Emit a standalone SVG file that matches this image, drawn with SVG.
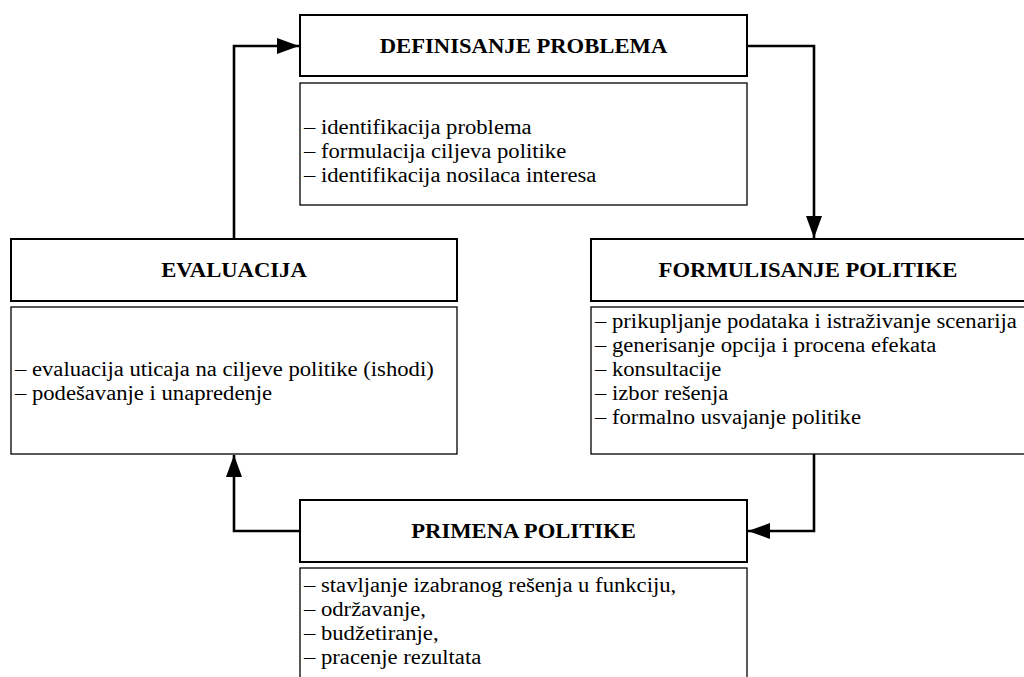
<svg xmlns="http://www.w3.org/2000/svg" width="1024" height="677" viewBox="0 0 1024 677">
  <style>
    .hdr { fill: #ffffff; stroke: #000000; stroke-width: 2; }
    .box { fill: #ffffff; stroke: #000000; stroke-width: 1.3; }
    .title { font-size: 20.5px; font-weight: bold; text-anchor: middle; fill: #000000; }
    .item { font-size: 20.5px; fill: #000000; }
    .link { fill: none; stroke: #000000; stroke-width: 2.6; }
  </style>
  <defs>
    <marker id="arrow" viewBox="0 0 22 16" refX="22" refY="8" markerWidth="22" markerHeight="16" markerUnits="userSpaceOnUse" orient="auto">
      <path d="M0,0 L22,8 L0,16 Z" fill="#000000"/>
    </marker>
  </defs>
  <rect width="1024" height="677" fill="#ffffff"/>

  <!-- cycle connectors -->
  <g id="connectors">
    <path class="link" d="M234,239 V46 H299" marker-end="url(#arrow)"/>
    <path class="link" d="M747,46 H814 V238" marker-end="url(#arrow)"/>
    <path class="link" d="M814,454 V531 H748" marker-end="url(#arrow)"/>
    <path class="link" d="M300,531 H234 V455" marker-end="url(#arrow)"/>
  </g>

  <g font-family="'Liberation Serif', 'Times New Roman', serif">
    <!-- stage 1 -->
    <g id="definisanje">
      <rect class="hdr" x="300" y="15" width="447" height="61"/>
      <text class="title" transform="translate(523.5,53) scale(1.105,1)">DEFINISANJE PROBLEMA</text>
      <rect class="box" x="300" y="83" width="447" height="122"/>
      <text class="item" transform="translate(304,134) scale(1.105,1)">– identifikacija problema</text>
      <text class="item" transform="translate(304,158) scale(1.105,1)">– formulacija ciljeva politike</text>
      <text class="item" transform="translate(304,182) scale(1.105,1)">– identifikacija nosilaca interesa</text>
    </g>

    <!-- stage 2 -->
    <g id="formulisanje">
      <rect class="hdr" x="591" y="239" width="440" height="62"/>
      <text class="title" transform="translate(808,277) scale(1.105,1)">FORMULISANJE POLITIKE</text>
      <rect class="box" x="591" y="307" width="440" height="147"/>
      <text class="item" transform="translate(595,328) scale(1.105,1)">– prikupljanje podataka i istraživanje scenarija</text>
      <text class="item" transform="translate(595,352) scale(1.105,1)">– generisanje opcija i procena efekata</text>
      <text class="item" transform="translate(595,376) scale(1.105,1)">– konsultacije</text>
      <text class="item" transform="translate(595,400) scale(1.105,1)">– izbor rešenja</text>
      <text class="item" transform="translate(595,424) scale(1.105,1)">– formalno usvajanje politike</text>
    </g>

    <!-- stage 3 -->
    <g id="primena">
      <rect class="hdr" x="300" y="500" width="447" height="62"/>
      <text class="title" transform="translate(523.5,538) scale(1.105,1)">PRIMENA POLITIKE</text>
      <rect class="box" x="300" y="568" width="447" height="130"/>
      <text class="item" transform="translate(304,592) scale(1.105,1)">– stavljanje izabranog rešenja u funkciju,</text>
      <text class="item" transform="translate(304,616) scale(1.105,1)">– održavanje,</text>
      <text class="item" transform="translate(304,640) scale(1.105,1)">– budžetiranje,</text>
      <text class="item" transform="translate(304,664) scale(1.105,1)">– pracenje rezultata</text>
    </g>

    <!-- stage 4 -->
    <g id="evaluacija">
      <rect class="hdr" x="11" y="239" width="446" height="62"/>
      <text class="title" transform="translate(234,277) scale(1.105,1)">EVALUACIJA</text>
      <rect class="box" x="11" y="307" width="446" height="147"/>
      <text class="item" transform="translate(15,376) scale(1.105,1)">– evaluacija uticaja na ciljeve politike (ishodi)</text>
      <text class="item" transform="translate(15,400) scale(1.105,1)">– podešavanje i unapredenje</text>
    </g>
  </g>
</svg>
